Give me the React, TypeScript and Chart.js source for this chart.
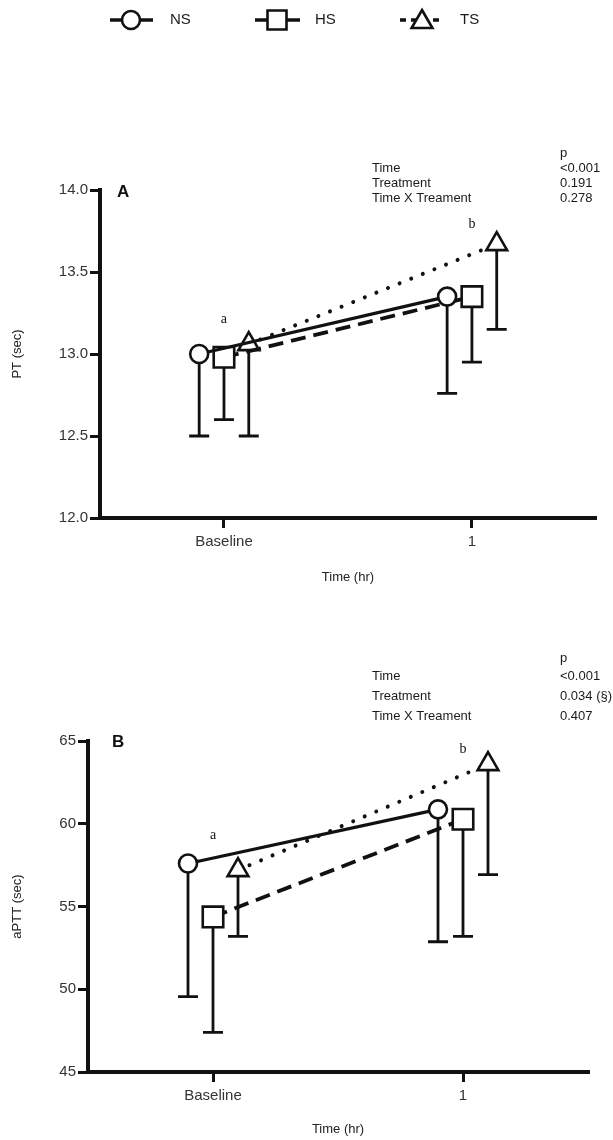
import React, { useEffect, useRef } from 'react';
import { Chart, registerables } from 'chart.js';

Chart.register(...registerables);

// ---------- data ----------
const categories = ['Baseline', '1'];
const seriesNames = ['NS', 'HS', 'TS'];

// Panel A: PT (sec) — mean and lower error limit
const ptNS = [13.0, 13.35];
const ptHS = [12.98, 13.35];
const ptTS = [13.06, 13.67];
const ptNSLow = [12.5, 12.76];
const ptHSLow = [12.6, 12.95];
const ptTSLow = [12.5, 13.15];
const ptTicks = [12.0, 12.5, 13.0, 13.5, 14.0];

// Panel B: aPTT (sec)
const apttNS = [57.6, 60.87];
const apttHS = [54.37, 60.27];
const apttTS = [57.2, 63.6];
const apttNSLow = [49.55, 52.87];
const apttHSLow = [47.4, 53.2];
const apttTSLow = [53.2, 56.93];
const apttTicks = [45, 50, 55, 60, 65];

const ptStatLabels = ['Time', 'Treatment', 'Time X Treament'];
const ptStatValues = ['<0.001', '0.191', '0.278'];
const apttStatLabels = ['Time', 'Treatment', 'Time X Treament'];
const apttStatValues = ['<0.001', '0.034 (§)', '0.407'];

const ptLetters = ['a', 'b'];
const ptLetterValues = [13.21, 13.79];
const apttLetters = ['a', 'b'];
const apttLetterValues = [59.3, 64.5];

// ---------- styles ----------
const INK = '#111';
const SANS = '"Liberation Sans", Arial, Helvetica, sans-serif';
const SERIF = '"Liberation Serif", "Times New Roman", serif';
const dodge = [-0.1, 0, 0.1];
const seriesStyle = [
  { pointStyle: 'circle', radius: 9, dash: [] as number[], width: 3.2, cap: 'butt' },
  { pointStyle: 'rect', radius: 14.5, dash: [15, 8], width: 3.8, cap: 'butt' },
  { pointStyle: 'triangle', radius: 12, dash: [0.01, 12.5], width: 4, cap: 'round' },
];

type PanelDef = {
  means: number[][];
  lows: number[][];
  ticks: number[];
  decimals: number;
  yTitle: string;
  statLabels: string[];
  statValues: string[];
  letters: string[];
  letterValues: number[];
  panelLetter: string;
  height: number;
  top: number; // canvas top on page
  padTop: number;
  padRight: number;
  yWidth: number;
  xHeight: number;
  xTitlePad: number;
  statX: number;
  valX: number;
  statYs: number[]; // p, rows (page coords)
  letterPos: [number, number];
  legend: boolean;
};

function drawMarker(ctx: CanvasRenderingContext2D, style: string, x: number, y: number, r: number) {
  ctx.beginPath();
  if (style === 'circle') {
    ctx.arc(x, y, r, 0, Math.PI * 2);
  } else if (style === 'rect') {
    ctx.rect(x - r, y - r, 2 * r, 2 * r);
  } else {
    ctx.moveTo(x, y - r);
    ctx.lineTo(x + r * 0.866, y + r * 0.5);
    ctx.lineTo(x - r * 0.866, y + r * 0.5);
    ctx.closePath();
  }
  ctx.fillStyle = '#fff';
  ctx.fill();
  ctx.stroke();
}

function makeChart(canvas: HTMLCanvasElement, P: PanelDef) {
  const ticksFont = { family: SANS, size: 15 };
  const gridOpts = {
    display: true,
    drawOnChartArea: false,
    drawTicks: true,
    tickLength: 10,
    lineWidth: 3,
    color: INK,
  };
  const borderOpts = { display: true, width: 4, color: INK };

  const datasets = seriesNames.map((name, i) => ({
    label: name,
    data: categories.map((_, j) => ({ x: j + dodge[i], y: P.means[i][j] })),
    borderColor: INK,
    borderWidth: seriesStyle[i].width,
    borderDash: seriesStyle[i].dash,
    borderCapStyle: seriesStyle[i].cap,
    pointStyle: seriesStyle[i].pointStyle,
    pointRadius: seriesStyle[i].radius,
    pointBorderWidth: 2.6,
    pointBackgroundColor: '#fff',
    pointBorderColor: INK,
    fill: false,
    tension: 0,
  }));

  const errorBars = {
    id: 'errorBars',
    beforeDatasetsDraw(chart: any) {
      const ctx = chart.ctx;
      const ys = chart.scales.y;
      ctx.save();
      ctx.strokeStyle = INK;
      ctx.lineWidth = 2.8;
      chart.data.datasets.forEach((_: any, i: number) => {
        const meta = chart.getDatasetMeta(i);
        meta.data.forEach((pt: any, j: number) => {
          const low = ys.getPixelForValue(P.lows[i][j]);
          ctx.beginPath();
          ctx.moveTo(pt.x, pt.y);
          ctx.lineTo(pt.x, low);
          ctx.moveTo(pt.x - 10, low);
          ctx.lineTo(pt.x + 10, low);
          ctx.stroke();
        });
      });
      ctx.restore();
    },
  };

  const texts = {
    id: 'texts',
    afterDraw(chart: any) {
      const ctx = chart.ctx;
      const xs = chart.scales.x;
      const ys = chart.scales.y;
      ctx.save();
      ctx.fillStyle = '#1a1a1a';
      ctx.textBaseline = 'middle';
      ctx.textAlign = 'left';
      ctx.font = `13px ${SANS}`;
      ctx.fillText('p', P.valX, P.statYs[0] - P.top);
      P.statLabels.forEach((lab, k) => {
        ctx.fillText(lab, P.statX, P.statYs[k + 1] - P.top);
        ctx.fillText(P.statValues[k], P.valX, P.statYs[k + 1] - P.top);
      });
      ctx.font = `bold 17px ${SANS}`;
      ctx.fillStyle = INK;
      ctx.fillText(P.panelLetter, P.letterPos[0], P.letterPos[1] - P.top);
      ctx.font = `14px ${SERIF}`;
      ctx.textAlign = 'center';
      P.letters.forEach((t, j) => {
        ctx.fillText(t, xs.getPixelForValue(j), ys.getPixelForValue(P.letterValues[j]));
      });

      if (P.legend) {
        const cy = 20;
        const items = [
          { x0: 110, x1: 153, mx: 131, tx: 170, dash: [] as number[] },
          { x0: 255, x1: 300, mx: 277, tx: 315, dash: [] as number[] },
          { x0: 400, x1: 442, mx: 422, tx: 460, dash: [6, 5] },
        ];
        items.forEach((it, i) => {
          ctx.strokeStyle = INK;
          ctx.lineWidth = 3.5;
          ctx.setLineDash(it.dash);
          ctx.beginPath();
          ctx.moveTo(it.x0, cy);
          ctx.lineTo(it.x1, cy);
          ctx.stroke();
          ctx.setLineDash([]);
          ctx.lineWidth = 2.6;
          const st = seriesStyle[i].pointStyle;
          drawMarker(ctx, st, it.mx, st === 'triangle' ? cy + 2 : cy, st === 'circle' ? 9 : st === 'rect' ? 9.5 : 12);
          ctx.fillStyle = '#1a1a1a';
          ctx.font = `15px ${SANS}`;
          ctx.textAlign = 'left';
          ctx.fillText(seriesNames[i], it.tx, cy);
        });
      }
      ctx.restore();
    },
  };

  return new Chart(canvas, {
    type: 'line',
    data: { datasets: datasets as any },
    plugins: [errorBars, texts],
    options: {
      responsive: false,
      animation: false,
      events: [],
      layout: { padding: { top: P.padTop, left: 0, right: P.padRight, bottom: 0 } },
      plugins: { legend: { display: false }, tooltip: { enabled: false } },
      scales: {
        x: {
          type: 'linear',
          min: -0.5,
          max: 1.5,
          afterBuildTicks: (s: any) => {
            s.ticks = categories.map((_, j) => ({ value: j }));
          },
          afterFit: (s: any) => {
            s.height = P.xHeight;
          },
          ticks: {
            callback: (v: any) => categories[Number(v)] ?? '',
            font: ticksFont,
            color: '#333',
            padding: 5,
            maxRotation: 0,
          },
          grid: gridOpts,
          border: borderOpts,
          title: {
            display: true,
            text: 'Time (hr)',
            font: { family: SANS, size: 13 },
            color: '#222',
            padding: { top: 0, bottom: P.xTitlePad },
          },
        },
        y: {
          type: 'linear',
          min: P.ticks[0],
          max: P.ticks[P.ticks.length - 1],
          afterBuildTicks: (s: any) => {
            s.ticks = P.ticks.map((v) => ({ value: v }));
          },
          afterFit: (s: any) => {
            s.width = P.yWidth;
          },
          ticks: {
            callback: (v: any) => Number(v).toFixed(P.decimals),
            font: ticksFont,
            color: '#333',
            padding: 2,
          },
          grid: gridOpts,
          border: borderOpts,
          title: {
            display: true,
            text: P.yTitle,
            font: { family: SANS, size: 13 },
            color: '#222',
            padding: { top: 10, bottom: 0 },
          },
        },
      },
    } as any,
  });
}

const panelA: PanelDef = {
  means: [ptNS, ptHS, ptTS],
  lows: [ptNSLow, ptHSLow, ptTSLow],
  ticks: ptTicks,
  decimals: 1,
  yTitle: 'PT (sec)',
  statLabels: ptStatLabels,
  statValues: ptStatValues,
  letters: ptLetters,
  letterValues: ptLetterValues,
  panelLetter: 'A',
  height: 600,
  top: 0,
  padTop: 190,
  padRight: 13,
  yWidth: 100,
  xHeight: 82,
  xTitlePad: 15,
  statX: 372,
  valX: 560,
  statYs: [153, 168, 183, 198],
  letterPos: [117, 192],
  legend: true,
};

const panelB: PanelDef = {
  means: [apttNS, apttHS, apttTS],
  lows: [apttNSLow, apttHSLow, apttTSLow],
  ticks: apttTicks,
  decimals: 0,
  yTitle: 'aPTT (sec)',
  statLabels: apttStatLabels,
  statValues: apttStatValues,
  letters: apttLetters,
  letterValues: apttLetterValues,
  panelLetter: 'B',
  height: 540,
  top: 600,
  padTop: 141,
  padRight: 25,
  yWidth: 88,
  xHeight: 68,
  xTitlePad: 3,
  statX: 372,
  valX: 560,
  statYs: [658, 676, 696, 716],
  letterPos: [112, 742],
  legend: false,
};

function PanelCanvas({ def }: { def: PanelDef }) {
  const ref = useRef<HTMLCanvasElement | null>(null);
  useEffect(() => {
    if (!ref.current) return;
    const chart = makeChart(ref.current, def);
    return () => chart.destroy();
  }, [def]);
  return (
    <canvas
      ref={ref}
      width={613}
      height={def.height}
      style={{ position: 'absolute', left: 0, top: def.top, width: 613, height: def.height, display: 'block' }}
    />
  );
}

export default function App() {
  return (
    <div style={{ position: 'absolute', left: 0, top: 0, width: 613, height: 1140, background: '#fff' }}>
      <PanelCanvas def={panelA} />
      <PanelCanvas def={panelB} />
    </div>
  );
}
